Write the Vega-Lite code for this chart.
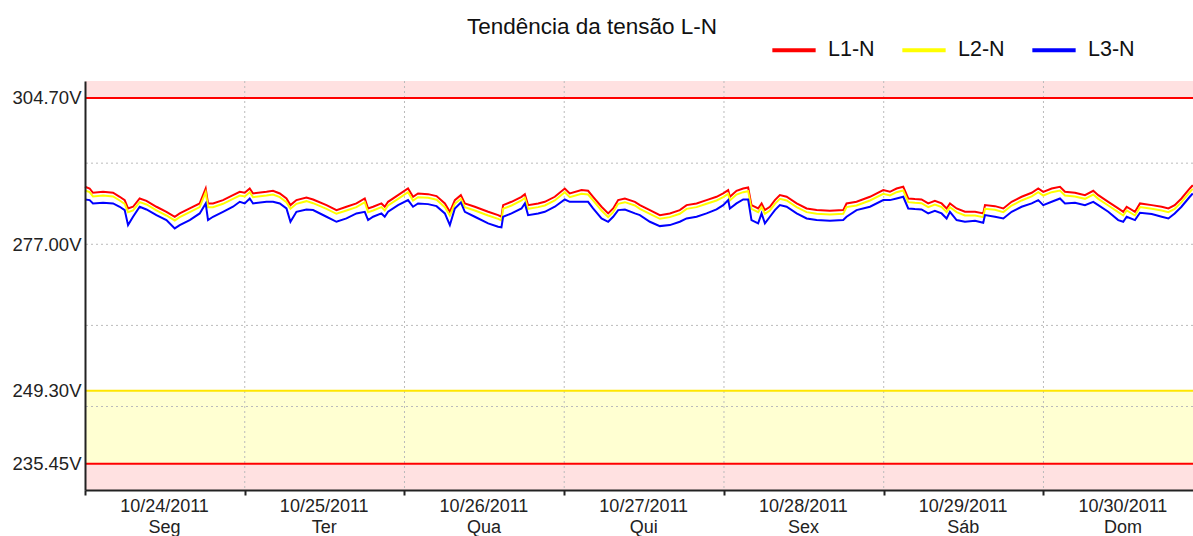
{
  "$schema": "https://vega.github.io/schema/vega-lite/v6.json",
  "width": 1108,
  "height": 409,
  "autosize": {"type": "none"},
  "padding": {"left": 85, "top": 81, "right": 0, "bottom": 46},
  "background": "white",
  "config": {"view": {"stroke": null}, "font": "Liberation Sans"},
  "title": {"text": "Tendência da tensão L-N", "frame": "group", "anchor": "middle", "dx": -47, "offset": -30, "baseline": "alphabetic", "fontSize": 22.5, "font": "Liberation Sans", "fontWeight": "normal", "color": "#111111"},
  "layer": [
    {
      "data": {"values": [
        {"v": 304.7, "v2": 307.9, "zona": "alerta"},
        {"v": 235.45, "v2": 249.3, "zona": "aviso"},
        {"v": 230.5, "v2": 235.45, "zona": "alerta"}
      ]},
      "mark": {"type": "rect"},
      "encoding": {
        "y": {"field": "v", "type": "quantitative", "scale": {"domain": [230.5, 307.9], "nice": false, "zero": false},
              "axis": {"title": null, "values": [235.45, 249.3, 277, 304.7], "labelExpr": "format(datum.value,'.2f')+'V'", "grid": false, "ticks": false, "labelPadding": 4, "labelFontSize": 18.5, "labelFont": "Liberation Sans", "labelColor": "#222222", "domainColor": "#222222", "domainWidth": 2, "zindex": 1}},
        "y2": {"field": "v2"},
        "fill": {"field": "zona", "type": "nominal", "scale": {"domain": ["alerta", "aviso"], "range": ["#FFE1E1", "#FFFFD2"]}, "legend": null}
      }
    },
    {
      "data": {"values": [{"v": 246.3}, {"v": 261.65}, {"v": 277}, {"v": 292.35}]},
      "mark": {"type": "rule", "color": "#BBBBBB", "strokeWidth": 1, "strokeDash": [2, 3]},
      "encoding": {
        "y": {"field": "v", "type": "quantitative", "scale": {"domain": [230.5, 307.9], "nice": false, "zero": false},
              "axis": {"title": null, "values": [235.45, 249.3, 277, 304.7], "labelExpr": "format(datum.value,'.2f')+'V'", "grid": false, "ticks": false, "labelPadding": 4, "labelFontSize": 18.5, "labelFont": "Liberation Sans", "labelColor": "#222222", "domainColor": "#222222", "domainWidth": 2, "zindex": 1}}
      }
    },
    {
      "data": {"values": [
        {"t": "2011-10-25T00:00Z"}, {"t": "2011-10-26T00:00Z"}, {"t": "2011-10-27T00:00Z"},
        {"t": "2011-10-28T00:00Z"}, {"t": "2011-10-29T00:00Z"}, {"t": "2011-10-30T00:00Z"}
      ]},
      "mark": {"type": "rule", "color": "#BBBBBB", "strokeWidth": 1, "strokeDash": [2, 3]},
      "encoding": {
        "x": {"field": "t", "type": "temporal",
              "scale": {"type": "utc", "domain": [{"year": 2011, "month": 10, "date": 24, "utc": true}, {"year": 2011, "month": 10, "date": 30, "hours": 22, "minutes": 28, "utc": true}]},
              "axis": {"title": null, "values": [
                {"year": 2011, "month": 10, "date": 24, "utc": true}, {"year": 2011, "month": 10, "date": 25, "utc": true},
                {"year": 2011, "month": 10, "date": 26, "utc": true}, {"year": 2011, "month": 10, "date": 27, "utc": true},
                {"year": 2011, "month": 10, "date": 28, "utc": true}, {"year": 2011, "month": 10, "date": 29, "utc": true},
                {"year": 2011, "month": 10, "date": 30, "utc": true}],
                "labelExpr": "[utcFormat(datum.value,'%m/%d/%Y'), ['Dom','Seg','Ter','Qua','Qui','Sex','Sáb'][utcday(datum.value)]]",
                "labelOffset": 79, "grid": false, "ticks": true, "tickSize": 5, "tickWidth": 2, "tickColor": "#222222",
                "labelFontSize": 18, "labelFont": "Liberation Sans", "labelColor": "#222222", "labelLineHeight": 21, "labelOverlap": false, "labelBound": false, "labelFlush": false, "labelPadding": 2,
                "domainColor": "#222222", "domainWidth": 2, "zindex": 1}}
      }
    },
    {
      "data": {"values": [
        {"v": 304.7, "k": "max"}, {"v": 249.3, "k": "aviso"}, {"v": 235.45, "k": "min"}
      ]},
      "mark": {"type": "rule", "strokeWidth": 2},
      "encoding": {
        "y": {"field": "v", "type": "quantitative", "scale": {"domain": [230.5, 307.9], "nice": false, "zero": false},
              "axis": {"title": null, "values": [235.45, 249.3, 277, 304.7], "labelExpr": "format(datum.value,'.2f')+'V'", "grid": false, "ticks": false, "labelPadding": 4, "labelFontSize": 18.5, "labelFont": "Liberation Sans", "labelColor": "#222222", "domainColor": "#222222", "domainWidth": 2, "zindex": 1}},
        "stroke": {"field": "k", "type": "nominal", "scale": {"domain": ["max", "aviso", "min"], "range": ["#FF0000", "#FFE600", "#FF0000"]}, "legend": null}
      }
    },
    {
      "data": {"values": [
        {"t": "2011-10-24T00:00Z", "L1-N": 287.88, "L2-N": 287.18, "L3-N": 285.48},
        {"t": "2011-10-24T00:42Z", "L1-N": 287.56, "L2-N": 286.86, "L3-N": 285.36},
        {"t": "2011-10-24T01:12Z", "L1-N": 286.75, "L2-N": 286.05, "L3-N": 284.73},
        {"t": "2011-10-24T02:43Z", "L1-N": 286.93, "L2-N": 286.23, "L3-N": 284.85},
        {"t": "2011-10-24T04:13Z", "L1-N": 286.75, "L2-N": 286.05, "L3-N": 284.73},
        {"t": "2011-10-24T05:13Z", "L1-N": 285.99, "L2-N": 285.29, "L3-N": 284.10},
        {"t": "2011-10-24T05:58Z", "L1-N": 285.36, "L2-N": 284.66, "L3-N": 283.47},
        {"t": "2011-10-24T06:28Z", "L1-N": 283.78, "L2-N": 283.08, "L3-N": 280.63},
        {"t": "2011-10-24T07:13Z", "L1-N": 284.10, "L2-N": 283.40, "L3-N": 282.21},
        {"t": "2011-10-24T08:13Z", "L1-N": 285.67, "L2-N": 284.97, "L3-N": 284.10},
        {"t": "2011-10-24T09:14Z", "L1-N": 285.23, "L2-N": 284.53, "L3-N": 283.59},
        {"t": "2011-10-24T10:44Z", "L1-N": 284.10, "L2-N": 283.40, "L3-N": 282.52},
        {"t": "2011-10-24T12:14Z", "L1-N": 283.15, "L2-N": 282.45, "L3-N": 281.58},
        {"t": "2011-10-24T13:29Z", "L1-N": 282.21, "L2-N": 281.51, "L3-N": 280.00},
        {"t": "2011-10-24T14:14Z", "L1-N": 282.84, "L2-N": 282.14, "L3-N": 280.63},
        {"t": "2011-10-24T15:44Z", "L1-N": 283.78, "L2-N": 283.08, "L3-N": 281.58},
        {"t": "2011-10-24T17:14Z", "L1-N": 284.73, "L2-N": 284.03, "L3-N": 282.84},
        {"t": "2011-10-24T18:08Z", "L1-N": 287.56, "L2-N": 286.86, "L3-N": 284.73},
        {"t": "2011-10-24T18:29Z", "L1-N": 284.73, "L2-N": 284.03, "L3-N": 281.58},
        {"t": "2011-10-24T19:14Z", "L1-N": 284.73, "L2-N": 284.03, "L3-N": 282.21},
        {"t": "2011-10-24T20:44Z", "L1-N": 285.36, "L2-N": 284.66, "L3-N": 283.15},
        {"t": "2011-10-24T22:14Z", "L1-N": 286.30, "L2-N": 285.60, "L3-N": 284.10},
        {"t": "2011-10-24T23:15Z", "L1-N": 286.93, "L2-N": 286.23, "L3-N": 285.04},
        {"t": "2011-10-25T00:00Z", "L1-N": 286.75, "L2-N": 286.05, "L3-N": 284.73},
        {"t": "2011-10-25T00:45Z", "L1-N": 287.56, "L2-N": 286.86, "L3-N": 285.67},
        {"t": "2011-10-25T01:15Z", "L1-N": 286.62, "L2-N": 285.92, "L3-N": 284.73},
        {"t": "2011-10-25T03:16Z", "L1-N": 286.93, "L2-N": 286.23, "L3-N": 285.04},
        {"t": "2011-10-25T04:15Z", "L1-N": 287.12, "L2-N": 286.42, "L3-N": 285.04},
        {"t": "2011-10-25T05:16Z", "L1-N": 286.62, "L2-N": 285.92, "L3-N": 284.73},
        {"t": "2011-10-25T06:16Z", "L1-N": 285.67, "L2-N": 284.97, "L3-N": 283.78},
        {"t": "2011-10-25T06:52Z", "L1-N": 284.41, "L2-N": 283.71, "L3-N": 281.26},
        {"t": "2011-10-25T07:46Z", "L1-N": 285.36, "L2-N": 284.66, "L3-N": 283.15},
        {"t": "2011-10-25T09:16Z", "L1-N": 285.86, "L2-N": 285.16, "L3-N": 283.59},
        {"t": "2011-10-25T10:16Z", "L1-N": 285.48, "L2-N": 284.78, "L3-N": 283.47},
        {"t": "2011-10-25T12:17Z", "L1-N": 284.41, "L2-N": 283.71, "L3-N": 282.21},
        {"t": "2011-10-25T13:47Z", "L1-N": 283.47, "L2-N": 282.77, "L3-N": 281.26},
        {"t": "2011-10-25T15:17Z", "L1-N": 284.10, "L2-N": 283.40, "L3-N": 281.89},
        {"t": "2011-10-25T16:47Z", "L1-N": 284.73, "L2-N": 284.03, "L3-N": 282.84},
        {"t": "2011-10-25T18:02Z", "L1-N": 285.67, "L2-N": 284.97, "L3-N": 283.15},
        {"t": "2011-10-25T18:32Z", "L1-N": 283.78, "L2-N": 283.08, "L3-N": 281.58},
        {"t": "2011-10-25T19:17Z", "L1-N": 284.10, "L2-N": 283.40, "L3-N": 282.21},
        {"t": "2011-10-25T20:32Z", "L1-N": 284.73, "L2-N": 284.03, "L3-N": 282.84},
        {"t": "2011-10-25T21:02Z", "L1-N": 284.10, "L2-N": 283.40, "L3-N": 282.21},
        {"t": "2011-10-25T21:32Z", "L1-N": 285.04, "L2-N": 284.34, "L3-N": 283.15},
        {"t": "2011-10-25T23:02Z", "L1-N": 286.30, "L2-N": 285.60, "L3-N": 284.41},
        {"t": "2011-10-26T00:32Z", "L1-N": 287.56, "L2-N": 286.86, "L3-N": 285.36},
        {"t": "2011-10-26T01:17Z", "L1-N": 285.99, "L2-N": 285.29, "L3-N": 284.10},
        {"t": "2011-10-26T02:02Z", "L1-N": 286.62, "L2-N": 285.92, "L3-N": 284.73},
        {"t": "2011-10-26T03:33Z", "L1-N": 286.49, "L2-N": 285.79, "L3-N": 284.60},
        {"t": "2011-10-26T04:49Z", "L1-N": 286.12, "L2-N": 285.42, "L3-N": 284.22},
        {"t": "2011-10-26T06:04Z", "L1-N": 284.73, "L2-N": 284.03, "L3-N": 282.84},
        {"t": "2011-10-26T06:49Z", "L1-N": 283.15, "L2-N": 282.45, "L3-N": 280.63},
        {"t": "2011-10-26T07:34Z", "L1-N": 285.36, "L2-N": 284.66, "L3-N": 283.78},
        {"t": "2011-10-26T08:28Z", "L1-N": 286.30, "L2-N": 285.60, "L3-N": 284.92},
        {"t": "2011-10-26T09:04Z", "L1-N": 284.73, "L2-N": 284.03, "L3-N": 283.15},
        {"t": "2011-10-26T10:34Z", "L1-N": 284.10, "L2-N": 283.40, "L3-N": 282.21},
        {"t": "2011-10-26T12:34Z", "L1-N": 283.15, "L2-N": 282.45, "L3-N": 280.95},
        {"t": "2011-10-26T14:04Z", "L1-N": 282.52, "L2-N": 281.82, "L3-N": 280.32},
        {"t": "2011-10-26T14:34Z", "L1-N": 282.21, "L2-N": 281.51, "L3-N": 280.19},
        {"t": "2011-10-26T14:49Z", "L1-N": 284.41, "L2-N": 283.71, "L3-N": 282.21},
        {"t": "2011-10-26T16:05Z", "L1-N": 285.04, "L2-N": 284.34, "L3-N": 282.84},
        {"t": "2011-10-26T17:35Z", "L1-N": 285.99, "L2-N": 285.29, "L3-N": 283.78},
        {"t": "2011-10-26T18:05Z", "L1-N": 286.49, "L2-N": 285.79, "L3-N": 284.73},
        {"t": "2011-10-26T18:34Z", "L1-N": 284.41, "L2-N": 283.71, "L3-N": 282.52},
        {"t": "2011-10-26T20:05Z", "L1-N": 284.73, "L2-N": 284.03, "L3-N": 282.84},
        {"t": "2011-10-26T21:05Z", "L1-N": 285.04, "L2-N": 284.34, "L3-N": 283.15},
        {"t": "2011-10-26T22:35Z", "L1-N": 285.99, "L2-N": 285.29, "L3-N": 284.10},
        {"t": "2011-10-27T00:05Z", "L1-N": 287.56, "L2-N": 286.86, "L3-N": 285.48},
        {"t": "2011-10-27T00:50Z", "L1-N": 286.62, "L2-N": 285.92, "L3-N": 285.04},
        {"t": "2011-10-27T02:36Z", "L1-N": 287.25, "L2-N": 286.55, "L3-N": 285.04},
        {"t": "2011-10-27T03:35Z", "L1-N": 287.12, "L2-N": 286.42, "L3-N": 285.04},
        {"t": "2011-10-27T04:20Z", "L1-N": 285.99, "L2-N": 285.29, "L3-N": 283.78},
        {"t": "2011-10-27T05:36Z", "L1-N": 284.10, "L2-N": 283.40, "L3-N": 281.89},
        {"t": "2011-10-27T06:36Z", "L1-N": 282.84, "L2-N": 282.14, "L3-N": 281.26},
        {"t": "2011-10-27T07:21Z", "L1-N": 283.78, "L2-N": 283.08, "L3-N": 282.21},
        {"t": "2011-10-27T08:06Z", "L1-N": 285.36, "L2-N": 284.66, "L3-N": 283.47},
        {"t": "2011-10-27T09:07Z", "L1-N": 285.67, "L2-N": 284.97, "L3-N": 283.59},
        {"t": "2011-10-27T10:37Z", "L1-N": 285.04, "L2-N": 284.34, "L3-N": 282.84},
        {"t": "2011-10-27T11:22Z", "L1-N": 284.41, "L2-N": 283.71, "L3-N": 282.52},
        {"t": "2011-10-27T12:52Z", "L1-N": 283.47, "L2-N": 282.77, "L3-N": 281.26},
        {"t": "2011-10-27T14:22Z", "L1-N": 282.52, "L2-N": 281.82, "L3-N": 280.44},
        {"t": "2011-10-27T15:52Z", "L1-N": 282.84, "L2-N": 282.14, "L3-N": 280.63},
        {"t": "2011-10-27T17:22Z", "L1-N": 283.47, "L2-N": 282.77, "L3-N": 281.26},
        {"t": "2011-10-27T18:23Z", "L1-N": 284.41, "L2-N": 283.71, "L3-N": 281.89},
        {"t": "2011-10-27T19:53Z", "L1-N": 284.73, "L2-N": 284.03, "L3-N": 282.21},
        {"t": "2011-10-27T21:23Z", "L1-N": 285.36, "L2-N": 284.66, "L3-N": 282.84},
        {"t": "2011-10-27T22:53Z", "L1-N": 285.99, "L2-N": 285.29, "L3-N": 283.59},
        {"t": "2011-10-27T23:53Z", "L1-N": 286.62, "L2-N": 285.92, "L3-N": 284.41},
        {"t": "2011-10-28T00:38Z", "L1-N": 287.25, "L2-N": 286.55, "L3-N": 285.36},
        {"t": "2011-10-28T00:53Z", "L1-N": 285.99, "L2-N": 285.29, "L3-N": 283.78},
        {"t": "2011-10-28T01:53Z", "L1-N": 287.12, "L2-N": 286.42, "L3-N": 284.73},
        {"t": "2011-10-28T02:53Z", "L1-N": 287.56, "L2-N": 286.86, "L3-N": 285.48},
        {"t": "2011-10-28T03:38Z", "L1-N": 287.75, "L2-N": 287.05, "L3-N": 285.48},
        {"t": "2011-10-28T04:08Z", "L1-N": 284.41, "L2-N": 283.71, "L3-N": 281.58},
        {"t": "2011-10-28T05:08Z", "L1-N": 283.78, "L2-N": 283.08, "L3-N": 280.95},
        {"t": "2011-10-28T05:39Z", "L1-N": 284.73, "L2-N": 284.03, "L3-N": 282.84},
        {"t": "2011-10-28T06:09Z", "L1-N": 283.47, "L2-N": 282.77, "L3-N": 280.95},
        {"t": "2011-10-28T06:54Z", "L1-N": 284.10, "L2-N": 283.40, "L3-N": 282.21},
        {"t": "2011-10-28T07:39Z", "L1-N": 285.36, "L2-N": 284.66, "L3-N": 283.47},
        {"t": "2011-10-28T08:24Z", "L1-N": 286.30, "L2-N": 285.60, "L3-N": 284.41},
        {"t": "2011-10-28T09:25Z", "L1-N": 285.99, "L2-N": 285.29, "L3-N": 284.10},
        {"t": "2011-10-28T10:55Z", "L1-N": 284.73, "L2-N": 284.03, "L3-N": 282.84},
        {"t": "2011-10-28T12:25Z", "L1-N": 283.78, "L2-N": 283.08, "L3-N": 281.89},
        {"t": "2011-10-28T13:55Z", "L1-N": 283.47, "L2-N": 282.77, "L3-N": 281.58},
        {"t": "2011-10-28T15:55Z", "L1-N": 283.34, "L2-N": 282.64, "L3-N": 281.45},
        {"t": "2011-10-28T17:55Z", "L1-N": 283.47, "L2-N": 282.77, "L3-N": 281.58},
        {"t": "2011-10-28T18:25Z", "L1-N": 284.73, "L2-N": 284.03, "L3-N": 282.21},
        {"t": "2011-10-28T19:55Z", "L1-N": 285.04, "L2-N": 284.34, "L3-N": 283.47},
        {"t": "2011-10-28T21:56Z", "L1-N": 285.99, "L2-N": 285.29, "L3-N": 284.10},
        {"t": "2011-10-28T23:56Z", "L1-N": 287.25, "L2-N": 286.55, "L3-N": 285.36},
        {"t": "2011-10-29T00:56Z", "L1-N": 286.93, "L2-N": 286.23, "L3-N": 285.36},
        {"t": "2011-10-29T01:56Z", "L1-N": 287.56, "L2-N": 286.86, "L3-N": 285.67},
        {"t": "2011-10-29T02:56Z", "L1-N": 287.88, "L2-N": 287.18, "L3-N": 285.99},
        {"t": "2011-10-29T03:41Z", "L1-N": 285.67, "L2-N": 284.97, "L3-N": 283.78},
        {"t": "2011-10-29T04:41Z", "L1-N": 285.55, "L2-N": 284.85, "L3-N": 283.66},
        {"t": "2011-10-29T05:41Z", "L1-N": 285.48, "L2-N": 284.78, "L3-N": 283.59},
        {"t": "2011-10-29T06:41Z", "L1-N": 284.73, "L2-N": 284.03, "L3-N": 282.84},
        {"t": "2011-10-29T07:41Z", "L1-N": 285.23, "L2-N": 284.53, "L3-N": 283.34},
        {"t": "2011-10-29T08:42Z", "L1-N": 284.73, "L2-N": 284.03, "L3-N": 282.84},
        {"t": "2011-10-29T09:27Z", "L1-N": 283.78, "L2-N": 283.08, "L3-N": 281.89},
        {"t": "2011-10-29T09:57Z", "L1-N": 284.73, "L2-N": 284.03, "L3-N": 283.15},
        {"t": "2011-10-29T10:57Z", "L1-N": 283.78, "L2-N": 283.08, "L3-N": 281.58},
        {"t": "2011-10-29T12:12Z", "L1-N": 283.15, "L2-N": 282.45, "L3-N": 281.26},
        {"t": "2011-10-29T13:43Z", "L1-N": 283.15, "L2-N": 282.45, "L3-N": 281.45},
        {"t": "2011-10-29T14:57Z", "L1-N": 282.84, "L2-N": 282.14, "L3-N": 281.07},
        {"t": "2011-10-29T15:13Z", "L1-N": 284.41, "L2-N": 283.71, "L3-N": 282.52},
        {"t": "2011-10-29T16:43Z", "L1-N": 284.22, "L2-N": 283.52, "L3-N": 282.21},
        {"t": "2011-10-29T17:58Z", "L1-N": 283.78, "L2-N": 283.08, "L3-N": 281.89},
        {"t": "2011-10-29T19:13Z", "L1-N": 285.04, "L2-N": 284.34, "L3-N": 283.15},
        {"t": "2011-10-29T20:43Z", "L1-N": 285.99, "L2-N": 285.29, "L3-N": 284.10},
        {"t": "2011-10-29T22:14Z", "L1-N": 286.75, "L2-N": 286.05, "L3-N": 284.73},
        {"t": "2011-10-29T23:13Z", "L1-N": 287.56, "L2-N": 286.86, "L3-N": 285.36},
        {"t": "2011-10-29T23:58Z", "L1-N": 286.93, "L2-N": 286.23, "L3-N": 284.41},
        {"t": "2011-10-30T01:14Z", "L1-N": 287.56, "L2-N": 286.86, "L3-N": 285.04},
        {"t": "2011-10-30T02:29Z", "L1-N": 287.88, "L2-N": 287.18, "L3-N": 285.67},
        {"t": "2011-10-30T03:14Z", "L1-N": 286.93, "L2-N": 286.23, "L3-N": 284.73},
        {"t": "2011-10-30T04:44Z", "L1-N": 286.75, "L2-N": 286.05, "L3-N": 284.85},
        {"t": "2011-10-30T06:14Z", "L1-N": 286.30, "L2-N": 285.60, "L3-N": 284.41},
        {"t": "2011-10-30T07:29Z", "L1-N": 287.12, "L2-N": 286.42, "L3-N": 285.04},
        {"t": "2011-10-30T08:14Z", "L1-N": 286.30, "L2-N": 285.60, "L3-N": 284.41},
        {"t": "2011-10-30T09:44Z", "L1-N": 285.04, "L2-N": 284.34, "L3-N": 283.15},
        {"t": "2011-10-30T11:14Z", "L1-N": 283.78, "L2-N": 283.08, "L3-N": 281.58},
        {"t": "2011-10-30T11:59Z", "L1-N": 283.15, "L2-N": 282.45, "L3-N": 281.26},
        {"t": "2011-10-30T12:30Z", "L1-N": 284.10, "L2-N": 283.40, "L3-N": 282.21},
        {"t": "2011-10-30T13:45Z", "L1-N": 283.15, "L2-N": 282.45, "L3-N": 281.58},
        {"t": "2011-10-30T14:30Z", "L1-N": 284.73, "L2-N": 284.03, "L3-N": 282.96},
        {"t": "2011-10-30T16:16Z", "L1-N": 284.41, "L2-N": 283.71, "L3-N": 282.71},
        {"t": "2011-10-30T17:46Z", "L1-N": 284.10, "L2-N": 283.40, "L3-N": 282.21},
        {"t": "2011-10-30T18:46Z", "L1-N": 283.78, "L2-N": 283.08, "L3-N": 281.89},
        {"t": "2011-10-30T19:43Z", "L1-N": 284.41, "L2-N": 283.71, "L3-N": 282.84},
        {"t": "2011-10-30T20:44Z", "L1-N": 285.67, "L2-N": 284.97, "L3-N": 284.10},
        {"t": "2011-10-30T21:59Z", "L1-N": 287.56, "L2-N": 286.86, "L3-N": 285.99},
        {"t": "2011-10-30T22:26Z", "L1-N": 288.19, "L2-N": 287.49, "L3-N": 286.62}
      ]},
      "transform": [{"fold": ["L1-N", "L2-N", "L3-N"], "as": ["serie", "v"]}],
      "mark": {"type": "line", "strokeWidth": 2},
      "encoding": {
        "x": {"field": "t", "type": "temporal",
              "scale": {"type": "utc", "domain": [{"year": 2011, "month": 10, "date": 24, "utc": true}, {"year": 2011, "month": 10, "date": 30, "hours": 22, "minutes": 28, "utc": true}]},
              "axis": {"title": null, "values": [
                {"year": 2011, "month": 10, "date": 24, "utc": true}, {"year": 2011, "month": 10, "date": 25, "utc": true},
                {"year": 2011, "month": 10, "date": 26, "utc": true}, {"year": 2011, "month": 10, "date": 27, "utc": true},
                {"year": 2011, "month": 10, "date": 28, "utc": true}, {"year": 2011, "month": 10, "date": 29, "utc": true},
                {"year": 2011, "month": 10, "date": 30, "utc": true}],
                "labelExpr": "[utcFormat(datum.value,'%m/%d/%Y'), ['Dom','Seg','Ter','Qua','Qui','Sex','Sáb'][utcday(datum.value)]]",
                "labelOffset": 79, "grid": false, "ticks": true, "tickSize": 5, "tickWidth": 2, "tickColor": "#222222",
                "labelFontSize": 18, "labelFont": "Liberation Sans", "labelColor": "#222222", "labelLineHeight": 21, "labelOverlap": false, "labelBound": false, "labelFlush": false, "labelPadding": 2,
                "domainColor": "#222222", "domainWidth": 2, "zindex": 1}},
        "y": {"field": "v", "type": "quantitative", "scale": {"domain": [230.5, 307.9], "nice": false, "zero": false},
              "axis": {"title": null, "values": [235.45, 249.3, 277, 304.7], "labelExpr": "format(datum.value,'.2f')+'V'", "grid": false, "ticks": false, "labelPadding": 4, "labelFontSize": 18.5, "labelFont": "Liberation Sans", "labelColor": "#222222", "domainColor": "#222222", "domainWidth": 2, "zindex": 1}},
        "color": {"field": "serie", "type": "nominal",
                  "scale": {"domain": ["L1-N", "L2-N", "L3-N"], "range": ["#FF0000", "#FFFF00", "#0000FF"]},
                  "legend": {"orient": "none", "legendX": 685, "legendY": -55, "direction": "horizontal", "title": null,
                             "symbolType": "stroke", "symbolStrokeWidth": 4, "symbolSize": 1875,
                             "labelFontSize": 21.5, "labelFont": "Liberation Sans", "labelColor": "#111111", "labelOffset": 10, "columnPadding": 19}}
      }
    }
  ]
}
